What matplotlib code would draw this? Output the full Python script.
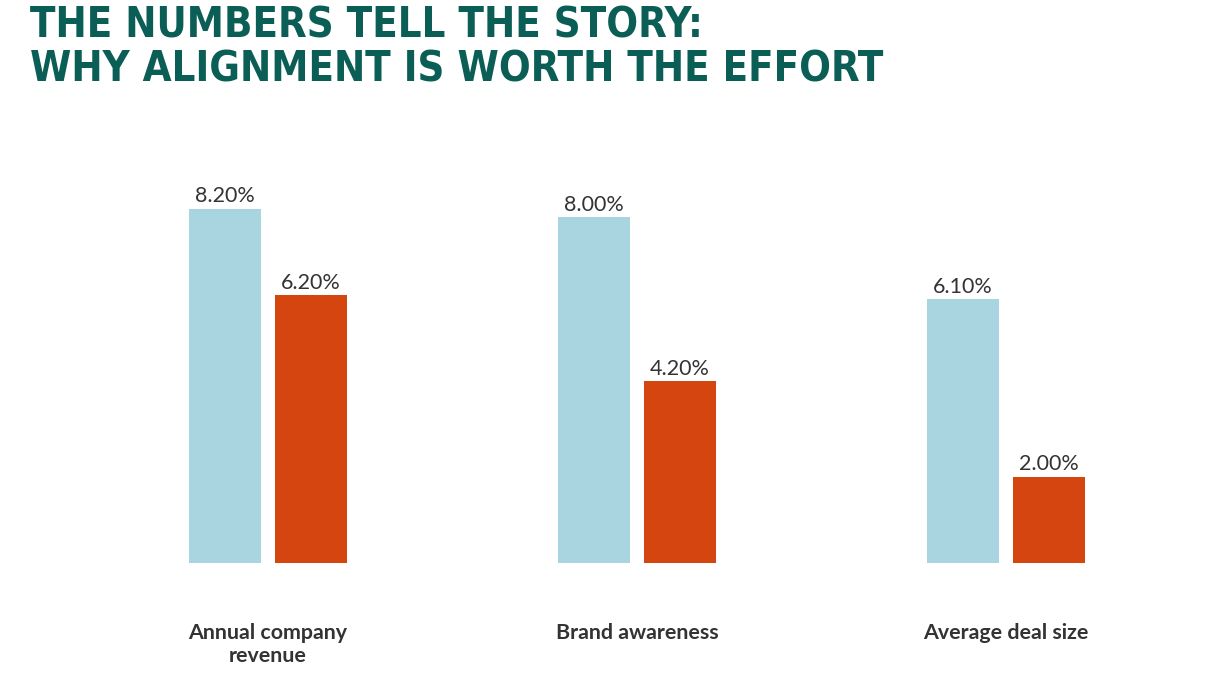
import matplotlib
matplotlib.use("Agg")
import matplotlib.pyplot as plt
import numpy as np

categories = ["Annual company\nrevenue", "Brand awareness", "Average deal size"]
series_a = [8.2, 8.0, 6.1]
series_b = [6.2, 4.2, 2.0]

W, H = 1228, 684
fig = plt.figure(figsize=(W / 100, H / 100), dpi=100)
fig.patch.set_facecolor("white")

left, right = 83.5, 1190.5
bottom_px, top_px = 563, 174
ax = fig.add_axes([left / W, 1 - bottom_px / H, (right - left) / W, (bottom_px - top_px) / H])
ax.set_xlim(-0.5, 2.5)
ax.set_ylim(0, 9)
ax.axis("off")

x = np.arange(len(categories))
bw = 72 / 369
off = 43 / 369
c_a = "#a8d5e0"
c_b = "#d5450f"
ax.bar(x - off, series_a, width=bw, color=c_a)
ax.bar(x + off, series_b, width=bw, color=c_b)

txt = "#333333"
for xi, v in zip(x - off, series_a):
    ax.annotate(f"{v:.2f}%", (xi, v), xytext=(0, 1.5), textcoords="offset points",
                ha="center", va="bottom", fontsize=15.5, family="Lato", color=txt)
for xi, v in zip(x + off, series_b):
    ax.annotate(f"{v:.2f}%", (xi, v), xytext=(0, 1.5), textcoords="offset points",
                ha="center", va="bottom", fontsize=15.5, family="Lato", color=txt)

for xi, c in zip(x, categories):
    ax.annotate(c, (xi, 0), xytext=(0, -43), textcoords="offset points",
                ha="center", va="top", fontsize=15.4, family="Lato", fontweight="bold",
                color=txt, linespacing=1.2)

tc = "#0b5e55"
fig.text(30 / W, 1 - 5 / H, "THE NUMBERS TELL THE STORY:", ha="left", va="top",
         fontsize=30, fontweight="bold", family="DejaVu Sans", fontstretch="condensed", color=tc)
fig.text(30 / W, 1 - 49 / H, "WHY ALIGNMENT IS WORTH THE EFFORT", ha="left", va="top",
         fontsize=30, fontweight="bold", family="DejaVu Sans", fontstretch="condensed", color=tc)

fig.savefig("out.png", dpi=100, facecolor="white")
